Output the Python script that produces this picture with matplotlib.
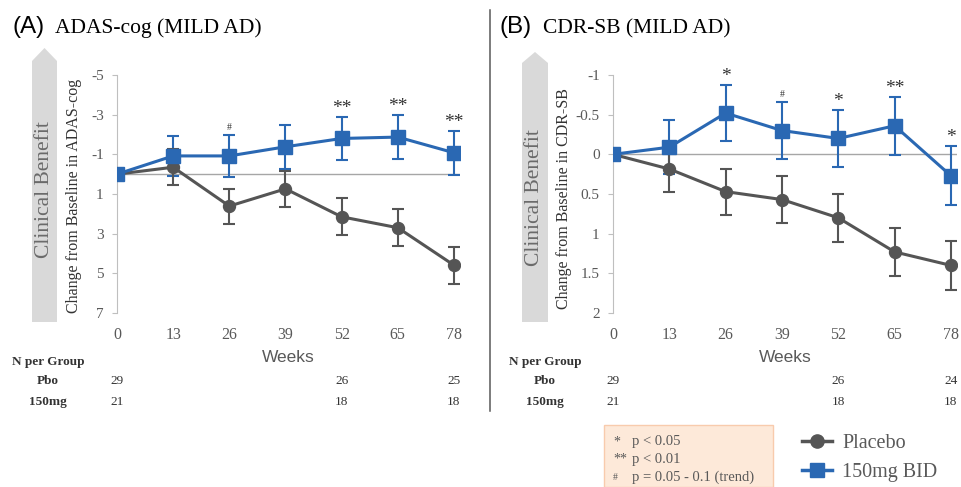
import numpy as np
import matplotlib
matplotlib.use("Agg")
import matplotlib.pyplot as plt
from matplotlib.patches import Polygon, Rectangle
from matplotlib.lines import Line2D
import matplotlib.transforms as mtransforms

SERIF = "Liberation Serif"
SANS = "Liberation Sans"

weeks = [0, 13, 26, 39, 52, 65, 78]

# (A) ADAS-cog
adas_pbo = [0, -0.35, 1.61, 0.74, 2.15, 2.7, 4.59]
adas_pbo_err = [0, 0.9, 0.88, 0.9, 0.93, 0.94, 0.94]
adas_150 = [0, -0.92, -0.92, -1.38, -1.8, -1.87, -1.08]
adas_150_err = [0, 1.02, 1.05, 1.1, 1.1, 1.1, 1.1]
adas_sig = ["", "", "#", "", "**", "**", "**"]
adas_ticks = [-5, -3, -1, 1, 3, 5, 7]

# (B) CDR-SB
cdr_pbo = [0, 0.185, 0.47, 0.57, 0.80, 1.23, 1.40]
cdr_pbo_err = [0, 0.29, 0.29, 0.3, 0.3, 0.3, 0.31]
cdr_150 = [0, -0.09, -0.52, -0.30, -0.20, -0.36, 0.27]
cdr_150_err = [0, 0.34, 0.35, 0.36, 0.36, 0.365, 0.37]
cdr_sig = ["", "", "*", "#", "*", "**", "*"]
cdr_ticks = [-1, -0.5, 0, 0.5, 1, 1.5, 2]
cdr_ticklabels = ["-1", "-0.5", "0", "0.5", "1", "1.5", "2"]

n_weeks = [0, 52, 78]
n_pbo_a = [29, 26, 25]
n_150_a = [21, 18, 18]
n_pbo_b = [29, 26, 24]
n_150_b = [21, 18, 18]

BLUE = "#2a68b3"
GRAY = "#555555"
TXT = "#595959"

W, H = 962, 487
fig = plt.figure(figsize=(W / 100, H / 100), dpi=100)


def fx(x):
    return x / W


def fy(y):
    return 1 - y / H


def panel(left, width, pbo, pbo_err, trt, trt_err, sig, ylim, ticks, ticklabels, ylabel):
    ax = fig.add_axes([fx(left), 174 / H, width / W, 238 / H])
    ax.set_xlim(0, 79.4)
    ax.set_ylim(*ylim)
    ax.axhline(0, color="#a6a6a6", lw=1, zorder=1)
    ax.errorbar(weeks, trt, yerr=trt_err, fmt="none", ecolor=BLUE, elinewidth=1.5,
                capsize=4.5, capthick=1.5, zorder=2)
    ax.errorbar(weeks, pbo, yerr=pbo_err, fmt="-o", color=GRAY, ecolor=GRAY, lw=2.2,
                ms=8.6, elinewidth=1.5, capsize=4.5, capthick=1.5, zorder=3)
    ax.plot(weeks, trt, "-s", color=BLUE, lw=2.2, ms=9.6, zorder=4)
    for w, v, e, s in zip(weeks, trt, trt_err, sig):
        if s:
            if s == "#":
                fs, off = 7, 2.5
            else:
                fs, off = 14, 0
            ax.annotate(s, (w, v - e), xytext=(0, off), textcoords="offset points",
                        ha="center", va="bottom", fontsize=fs, family=SERIF, color="#333333")
    for sp in ["top", "right", "bottom"]:
        ax.spines[sp].set_visible(False)
    ax.spines["left"].set_color("#bfbfbf")
    ax.set_yticks(ticks)
    ax.set_yticklabels(ticklabels, family=SERIF, fontsize=11, color=TXT)
    ax.set_xticks(weeks)
    ax.set_xticklabels([str(w) for w in weeks], family=SERIF, fontsize=11.5, color=TXT)
    ax.tick_params(axis="y", length=3.6, color="#bfbfbf", pad=6)
    ax.tick_params(axis="x", length=0, pad=10)
    ax.set_xlabel("Weeks", family=SANS, fontsize=12.5, color=TXT, labelpad=5)
    ax.set_ylabel(ylabel, family=SERIF, fontsize=11.5, color="#333333", va="center")
    ax.patch.set_visible(False)
    return ax


axA = panel(117, 343, adas_pbo, adas_pbo_err, adas_150, adas_150_err, adas_sig,
            (7, -5), adas_ticks, [str(t) for t in adas_ticks],
            "Change from Baseline in ADAS-cog")
axA.yaxis.set_label_coords((74 - 117) / 343, 0.49)
axB = panel(613, 344, cdr_pbo, cdr_pbo_err, cdr_150, cdr_150_err, cdr_sig,
            (2, -1), cdr_ticks, cdr_ticklabels,
            "Change from Baseline in CDR-SB")
axB.yaxis.set_label_coords((564 - 613) / 344, 0.48)

# titles
fig.text(fx(12), fy(33), "(A)", family=SANS, fontsize=17.5, va="baseline")
fig.text(fx(55), fy(33), "ADAS-cog (MILD AD)", family=SERIF, fontsize=15.5, va="baseline")
fig.text(fx(500), fy(33), "(B)", family=SANS, fontsize=17.5, va="baseline")
fig.text(fx(543), fy(33), "CDR-SB (MILD AD)", family=SERIF, fontsize=15.5, va="baseline")

# clinical benefit arrows
for x0, x1, tip, sh, cy in [(32, 57, 48, 61, 190), (522, 548, 52, 63, 198)]:
    pts = [(fx(x0), fy(322)), (fx(x0), fy(sh)), (fx((x0 + x1) / 2), fy(tip)),
           (fx(x1), fy(sh)), (fx(x1), fy(322))]
    fig.patches.append(Polygon(pts, closed=True, transform=fig.transFigure,
                               facecolor="#d9d9d9", edgecolor="none"))
    fig.text(fx((x0 + x1) / 2), fy(cy), "Clinical Benefit", rotation=90, ha="center",
             va="center", family=SERIF, fontsize=15.5, color="#6a6a6a")

# divider
fig.lines.append(Line2D([fx(490.5), fx(490.5)], [fy(10), fy(411)], transform=fig.transFigure,
                        color="#595959", lw=1.1))

# N per group
for ax, cx, npbo, n150 in [(axA, 48, n_pbo_a, n_150_a), (axB, 545, n_pbo_b, n_150_b)]:
    fig.text(fx(cx), fy(362), "N per Group", ha="center", va="center", family=SERIF,
             fontsize=9.5, weight="bold", color="#333333")
    fig.text(fx(cx), fy(381), "Pbo", ha="center", va="center", family=SERIF,
             fontsize=9.5, weight="bold", color="#333333")
    fig.text(fx(cx), fy(402), "150mg", ha="center", va="center", family=SERIF,
             fontsize=9.5, weight="bold", color="#333333")
    tr = mtransforms.blended_transform_factory(ax.transData, fig.transFigure)
    for w, a, b in zip(n_weeks, npbo, n150):
        fig.text(w, fy(381), str(a), transform=tr, ha="center", va="center",
                 family=SERIF, fontsize=9.5, color="#333333")
        fig.text(w, fy(402), str(b), transform=tr, ha="center", va="center",
                 family=SERIF, fontsize=9.5, color="#333333")

# significance key
fig.patches.append(Rectangle((fx(604), 0), (773 - 604) / W, (487 - 425) / H,
                             transform=fig.transFigure, facecolor="#fde9d9",
                             edgecolor="#f8cbad", lw=1))
key = [("*", "p < 0.05", 442), ("**", "p < 0.01", 459), ("#", "p = 0.05 - 0.1 (trend)", 477)]
for sym, txt, y in key:
    fig.text(fx(613), fy(y), sym, ha="left", va="center", family=SERIF,
             fontsize=7 if sym == "#" else 10, color=TXT)
    fig.text(fx(632), fy(y), txt, ha="left", va="center", family=SERIF,
             fontsize=10.5, color=TXT)

# series legend
handles = [Line2D([], [], color=GRAY, marker="o", lw=2.5, ms=9.5),
           Line2D([], [], color=BLUE, marker="s", lw=2.5, ms=10)]
fig.legend(handles, ["Placebo", "150mg BID"], loc="center left",
           bbox_to_anchor=(fx(802), fy(458)), frameon=False,
           prop={"family": SERIF, "size": 14.5}, labelcolor=TXT, handlelength=1.5,
           handletextpad=0.5, labelspacing=0.45, borderpad=0, borderaxespad=0)

fig.savefig("out.png", dpi=100)
